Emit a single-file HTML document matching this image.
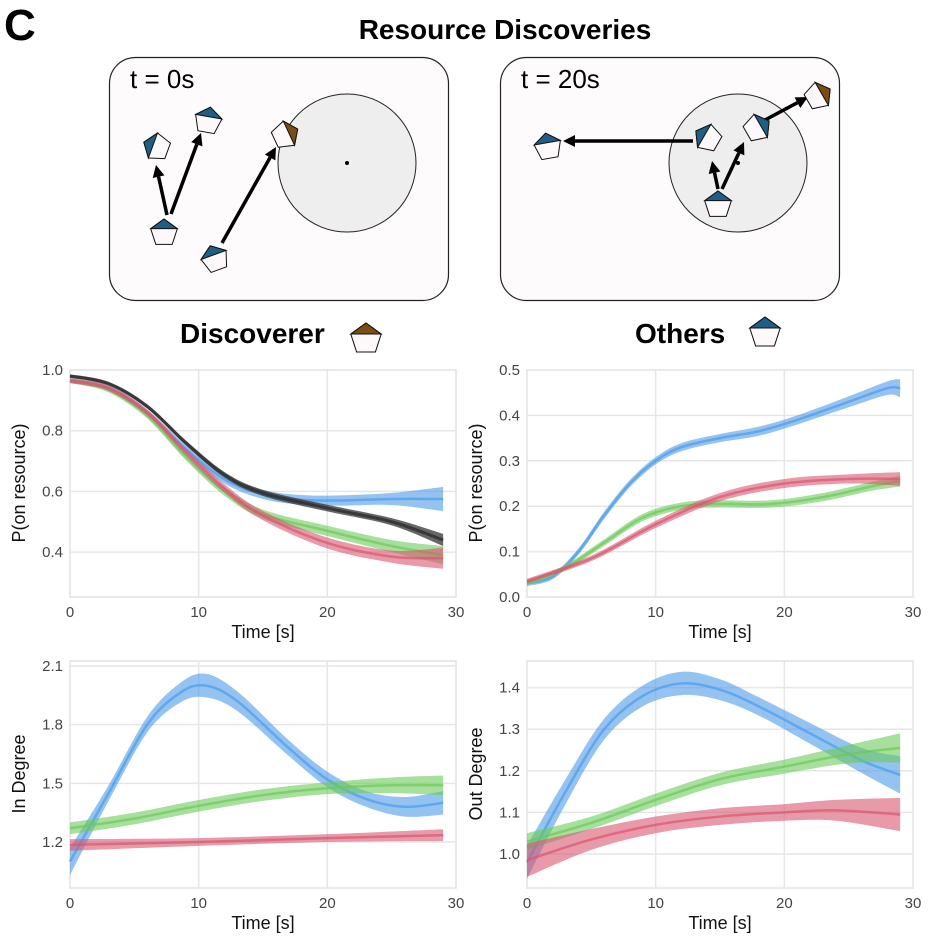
<!DOCTYPE html>
<html><head><meta charset="utf-8">
<style>
html,body{margin:0;padding:0;background:#fff;}
svg{display:block;font-family:"Liberation Sans",Arial,sans-serif;}
</style></head>
<body>
<svg id="s" width="931" height="942" viewBox="0 0 931 942" xmlns="http://www.w3.org/2000/svg">
<text x="4" y="40" font-size="44" font-weight="bold">C</text>
<text x="505" y="39" font-size="28" font-weight="bold" text-anchor="middle">Resource Discoveries</text>
<rect x="109.5" y="57.5" width="339" height="243" rx="26" fill="#fdfbfc" stroke="#222" stroke-width="1.2"/>
<rect x="500.5" y="57.5" width="339" height="243" rx="26" fill="#fdfbfc" stroke="#222" stroke-width="1.2"/>
<text x="130" y="88" font-size="26">t = 0s</text>
<text x="521" y="88" font-size="26">t = 20s</text>
<circle cx="347" cy="163" r="69" fill="#efeeef" stroke="#222" stroke-width="1"/>
<circle cx="347" cy="163" r="2" fill="#000"/>
<circle cx="738" cy="163" r="69" fill="#efeeef" stroke="#222" stroke-width="1"/>
<circle cx="738" cy="163" r="2" fill="#000"/>
<text x="180" y="343" font-size="28" font-weight="bold">Discoverer</text>
<text x="635" y="343" font-size="28" font-weight="bold">Others</text>
<g id="g"></g>
</svg>
<script>
var NS="http://www.w3.org/2000/svg",G=document.getElementById("g");
function el(n,a,t){var e=document.createElementNS(NS,n);for(var k in a)e.setAttribute(k,a[k]);if(t!=null)e.textContent=t;G.appendChild(e);return e;}
function pent(cx,cy,r,rot,cap){var p=[];for(var i=0;i<5;i++){var a=(rot-90+72*i)*Math.PI/180;p.push([cx+r*Math.cos(a),cy+r*Math.sin(a)]);}
el("polygon",{points:p.map(q=>q.join(",")).join(" "),fill:"#fdf9fa",stroke:"#111","stroke-width":1});
el("polygon",{points:[p[4],p[0],p[1]].map(q=>q.join(",")).join(" "),fill:cap,stroke:"#111","stroke-width":1});}
function arrow(x1,y1,x2,y2){var dx=x2-x1,dy=y2-y1,L=Math.hypot(dx,dy),ux=dx/L,uy=dy/L;var bx=x2-ux*12,by=y2-uy*12;
el("line",{x1:x1,y1:y1,x2:bx,y2:by,stroke:"#000","stroke-width":3.5});
el("polygon",{points:[x2,y2,bx-uy*6,by+ux*6,bx+uy*6,by-ux*6].join(","),fill:"#000"});}
var B="#1f5f86",Br="#7a4e12";
arrow(167,215,156,165);arrow(171,214,201,133);arrow(222,243,276,147);
pent(157,147,14,-70,B);pent(208,121,14,10,B);pent(164,233,14,0,B);pent(215,259,14,-20,B);pent(285,135,14,65,Br);
arrow(693,141,563,141);arrow(718,189,712,161);arrow(722,189,744,142);arrow(765,120,808,97);
pent(548,147,14,-10,B);pent(708,138,14,-60,B);pent(757,128,14,60,B);pent(718,205,14,0,B);pent(818,96,14,60,Br);
pent(366,339,16,0,Br);pent(765,333,16,0,B);
function cr(pts){var d="M"+pts[0][0]+","+pts[0][1];for(var i=0;i<pts.length-1;i++){var p0=pts[Math.max(i-1,0)],p1=pts[i],p2=pts[i+1],p3=pts[Math.min(i+2,pts.length-1)];
d+=" C"+(p1[0]+(p2[0]-p0[0])/6)+","+(p1[1]+(p2[1]-p0[1])/6)+" "+(p2[0]-(p3[0]-p1[0])/6)+","+(p2[1]-(p3[1]-p1[1])/6)+" "+p2[0]+","+p2[1];}return d;}
function crRev(pts){return cr(pts.slice().reverse()).replace("M","L");}
var COL={b:"#4c9be8",g:"#6cc95a",r:"#d9566f",k:"#333333"};
function chart(o){var X0=o.x,X1=o.x+386,Y0=o.y,Y1=o.y+227;
el("rect",{x:X0,y:Y0,width:386,height:227,fill:"#fff",stroke:"#e2e2e2","stroke-width":1.5});
[10,20].forEach(t=>{var x=X0+t*386/30;el("line",{x1:x,y1:Y0,x2:x,y2:Y1,stroke:"#e6e6e6","stroke-width":1.5});});
o.ticks.forEach(v=>{var y=o.py(v);if(y>Y0+1&&y<Y1-1)el("line",{x1:X0,y1:y,x2:X1,y2:y,stroke:"#e6e6e6","stroke-width":1.5});
el("text",{x:X0-7,y:y+5,"font-size":15,fill:"#444","text-anchor":"end"},o.fmt(v));});
[0,10,20,30].forEach(t=>el("text",{x:X0+t*386/30,y:Y1+20,"font-size":15,fill:"#444","text-anchor":"middle"},t));
el("text",{x:X0+193,y:Y1+41,"font-size":18,fill:"#111","text-anchor":"middle"},"Time [s]");
el("text",{transform:"translate("+(X0-45)+","+(Y0+113)+") rotate(-90)","font-size":18,fill:"#111","text-anchor":"middle"},o.ylab);
o.series.forEach(s=>{var px=t=>X0+t*386/30;
var mid=s.d.map(p=>[px(p[0]),o.py(p[1])]),up=s.d.map(p=>[px(p[0]),o.py(p[1]+p[2])]),lo=s.d.map(p=>[px(p[0]),o.py(p[1]-p[2])]);
el("path",{d:cr(up)+" "+crRev(lo)+" Z",fill:COL[s.c],"fill-opacity":s.c=="k"?0.75:0.6,stroke:"none"});
el("path",{d:cr(mid),fill:"none",stroke:COL[s.c],"stroke-width":s.c=="k"?3:2.5,"stroke-opacity":s.c=="k"?0.9:0.7});});}
chart({x:70,y:370,ylab:"P(on resource)",ticks:[0.4,0.6,0.8,1.0],fmt:v=>v.toFixed(1),py:v=>370+(1-v)*303.5,series:[
{c:"b",d:[[0,0.965,.008],[3,0.94,.009],[6,0.86,.01],[9,0.74,.012],[12,0.64,.014],[15,0.59,.015],[18,0.572,.016],[21,0.57,.017],[25,0.575,.02],[29,0.575,.04]]},
{c:"g",d:[[0,0.965,.008],[3,0.935,.009],[6,0.85,.01],[9,0.715,.012],[12,0.6,.014],[15,0.525,.015],[20,0.47,.017],[25,0.42,.02],[29,0.39,.03]]},
{c:"r",d:[[0,0.965,.008],[3,0.94,.009],[6,0.86,.01],[9,0.73,.012],[12,0.61,.014],[15,0.52,.015],[20,0.43,.018],[25,0.385,.02],[29,0.38,.035]]},
{c:"k",d:[[0,0.98,.006],[3,0.955,.006],[6,0.88,.007],[9,0.76,.008],[12,0.655,.009],[15,0.595,.01],[20,0.545,.011],[25,0.50,.012],[29,0.44,.02]]}]});
chart({x:527,y:370,ylab:"P(on resource)",ticks:[0,0.1,0.2,0.3,0.4,0.5],fmt:v=>v.toFixed(1),py:v=>597-v*454,series:[
{c:"b",d:[[0,0.03,.006],[2,0.045,.006],[4,0.1,.007],[6,0.18,.008],[8,0.25,.008],[10,0.3,.008],[12,0.33,.009],[15,0.35,.009],[18,0.365,.01],[21,0.39,.01],[25,0.43,.012],[28,0.46,.015],[29,0.46,.02]]},
{c:"g",d:[[0,0.03,.005],[3,0.065,.006],[6,0.12,.007],[9,0.175,.008],[12,0.2,.008],[15,0.205,.008],[19,0.205,.008],[23,0.22,.009],[27,0.245,.01],[29,0.255,.012]]},
{c:"r",d:[[0,0.035,.005],[5,0.085,.006],[10,0.16,.008],[15,0.22,.009],[20,0.25,.01],[25,0.26,.01],[29,0.26,.015]]}]});
chart({x:70,y:661,ylab:"In Degree",ticks:[1.2,1.5,1.8,2.1],fmt:v=>v.toFixed(1),py:v=>842-(v-1.2)*195.6,series:[
{c:"b",d:[[0,1.1,.07],[3,1.45,.04],[6,1.8,.04],[8.5,1.96,.05],[10.5,2.0,.06],[13,1.92,.05],[17,1.68,.04],[20,1.52,.04],[23,1.42,.04],[26,1.38,.05],[29,1.40,.06]]},
{c:"g",d:[[0,1.27,.03],[5,1.32,.03],[10,1.385,.03],[15,1.44,.03],[20,1.475,.03],[25,1.49,.04],[29,1.49,.05]]},
{c:"r",d:[[0,1.185,.03],[10,1.2,.02],[20,1.22,.02],[29,1.235,.03]]}]});
chart({x:527,y:661,ylab:"Out Degree",ticks:[1.0,1.1,1.2,1.3,1.4],fmt:v=>v.toFixed(1),py:v=>854-(v-1)*416,series:[
{c:"b",d:[[0,0.98,.04],[3,1.15,.03],[6,1.3,.025],[9,1.38,.025],[12,1.41,.028],[15,1.395,.025],[18,1.355,.022],[22,1.29,.025],[26,1.225,.03],[29,1.19,.045]]},
{c:"g",d:[[0,1.03,.02],[5,1.075,.015],[10,1.13,.015],[15,1.18,.015],[20,1.21,.017],[25,1.24,.022],[29,1.255,.035]]},
{c:"r",d:[[0,0.985,.04],[5,1.035,.025],[10,1.07,.02],[15,1.09,.02],[20,1.1,.02],[24,1.105,.025],[29,1.095,.04]]}]});
</script>
</body></html>
